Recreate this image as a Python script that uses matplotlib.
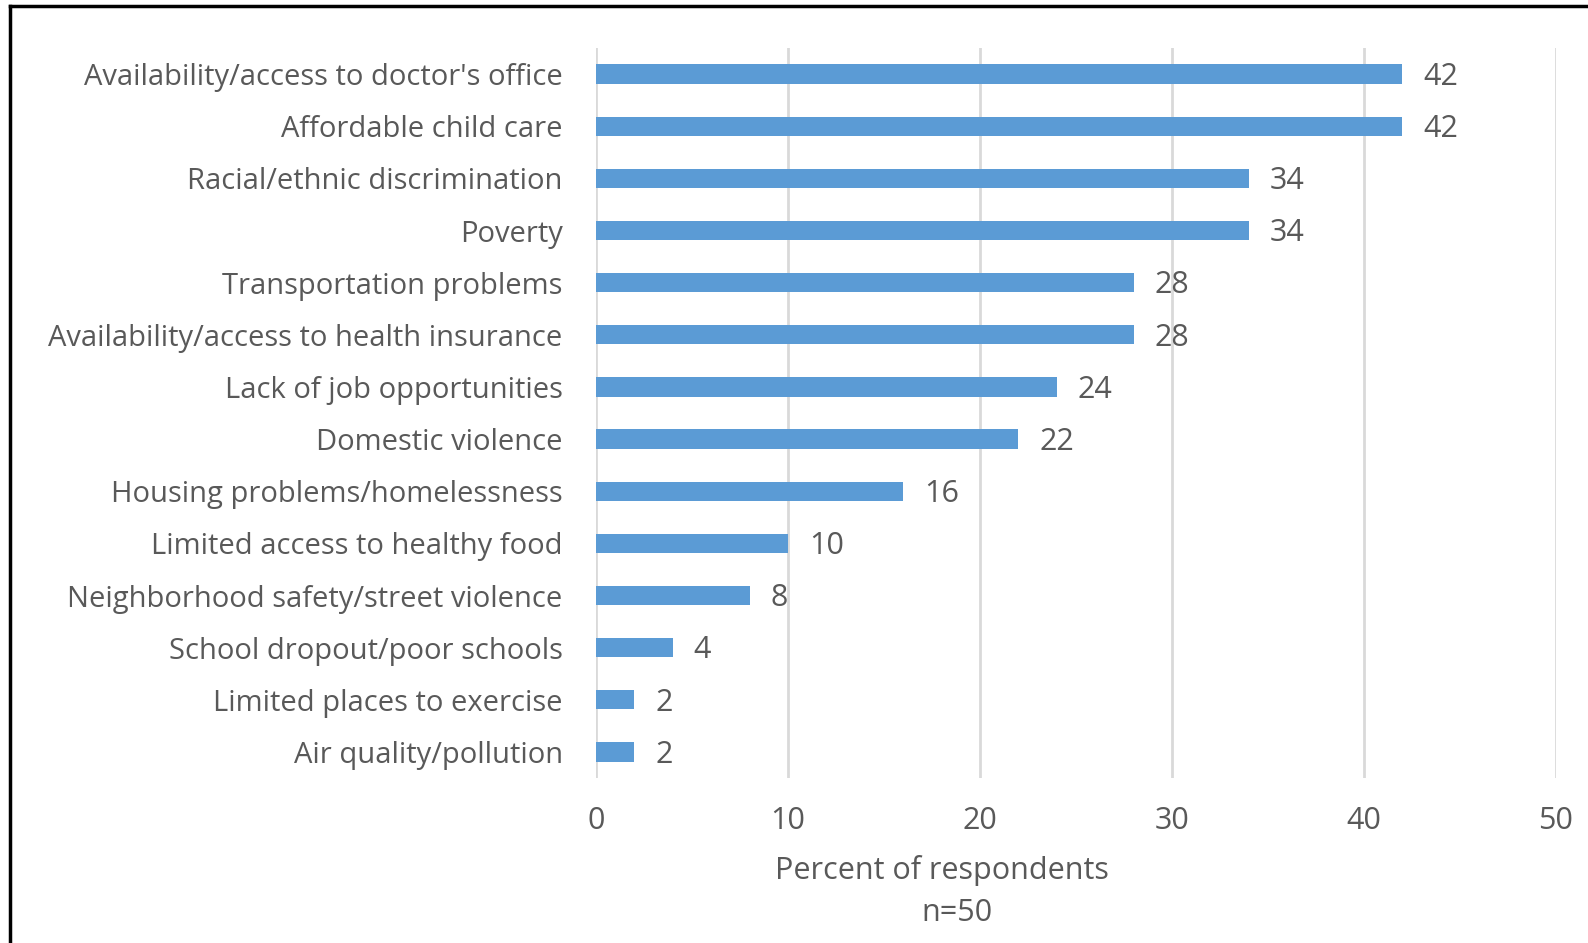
import matplotlib
matplotlib.use("Agg")
import matplotlib.pyplot as plt
from matplotlib.lines import Line2D

categories = [
    "Availability/access to doctor's office",
    "Affordable child care",
    "Racial/ethnic discrimination",
    "Poverty",
    "Transportation problems",
    "Availability/access to health insurance",
    "Lack of job opportunities",
    "Domestic violence",
    "Housing problems/homelessness",
    "Limited access to healthy food",
    "Neighborhood safety/street violence",
    "School dropout/poor schools",
    "Limited places to exercise",
    "Air quality/pollution",
]
values = [42, 42, 34, 34, 28, 28, 24, 22, 16, 10, 8, 4, 2, 2]
xticks = [0, 10, 20, 30, 40, 50]

plt.rcParams['font.family'] = ['Open Sans', 'DejaVu Sans']
TXT = '#595959'

W, H = 1588, 943
fig = plt.figure(figsize=(W / 100, H / 100), dpi=100)
ax = fig.add_axes([596 / W, 1 - 778 / H, (1556 - 596) / W, (778 - 48) / H])

y = list(range(len(categories)))
ax.barh(y, values, height=0.37, color='#5B9BD5', zorder=3)
ax.set_ylim(len(categories) - 0.5, -0.5)
ax.set_xlim(0, 50)
ax.set_xticks(xticks)
ax.set_xticklabels([str(t) for t in xticks], fontsize=22, color=TXT)
ax.set_yticks(y)
ax.set_yticklabels(categories, fontsize=21, color=TXT)
ax.tick_params(axis='both', length=0)
ax.tick_params(axis='x', pad=20)
ax.tick_params(axis='y', pad=24)
ax.grid(axis='x', color='#D9D9D9', linewidth=2, zorder=0)
for s in ax.spines.values():
    s.set_visible(False)

for yi, v in zip(y, values):
    ax.annotate(str(v), (v, yi), xytext=(15, -2), textcoords='offset points',
                va='center', ha='left', fontsize=22, color=TXT)

fig.text(942 / W, 1 - 870 / H, "Percent of respondents", fontsize=22, color=TXT,
         ha='center', va='center')
fig.text(957 / W, 1 - 913 / H, "n=50", fontsize=22, color=TXT,
         ha='center', va='center')

fig.add_artist(Line2D([10 / W, 10 / W], [0, 1 - 6 / H], transform=fig.transFigure,
                      color='black', linewidth=2.5))
fig.add_artist(Line2D([10 / W, 1], [1 - 6 / H, 1 - 6 / H], transform=fig.transFigure,
                      color='black', linewidth=2.5))

fig.savefig('out.png', dpi=100, facecolor='white')
